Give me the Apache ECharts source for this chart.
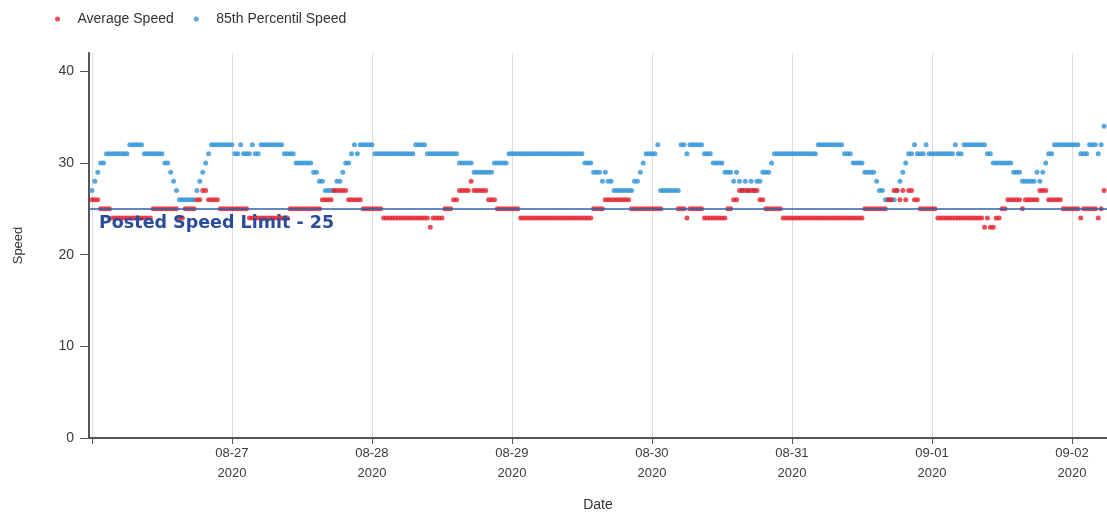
<!DOCTYPE html>
<html><head><meta charset="utf-8">
<script src="https://cdn.jsdelivr.net/npm/echarts@6/dist/echarts.min.js"></script>
<style>html,body{margin:0;padding:0;background:#fff}#c{width:1107px;height:517px}</style>
</head><body><div id="c"></div>
<script>
// Samples every 30 minutes starting 2020-08-26 00:00
const startDate = [2020, 7, 26];
const stepMinutes = 30;
const seriesNames = ['Average Speed', '85th Percentil Speed'];
const dayLabels = ['08-27', '08-28', '08-29', '08-30', '08-31', '09-01', '09-02'];
const yearLabel = '2020';
const yTicks = [0, 10, 20, 30, 40];
const speedLimit = 25;
const limitLabel = 'Posted Speed Limit - 25';

const avgSpeed = [
  26,26,26,25,25,25,25,24,24,24,24,24,
  24,24,24,24,24,24,24,24,24,25,25,25,
  25,25,25,25,25,25,24,24,25,25,25,25,
  26,26,27,27,26,26,26,26,25,25,25,25,
  25,25,25,25,25,25,24,24,24,24,24,24,
  24,24,24,24,24,24,24,24,25,25,25,25,
  25,25,25,25,25,25,25,26,26,26,26,27,
  27,27,27,27,26,26,26,26,26,25,25,25,
  25,25,25,25,24,24,24,24,24,24,24,24,
  24,24,24,24,24,24,24,24,23,24,24,24,
  24,25,25,25,26,26,27,27,27,27,28,27,
  27,27,27,27,26,26,26,25,25,25,25,25,
  25,25,25,24,24,24,24,24,24,24,24,24,
  24,24,24,24,24,24,24,24,24,24,24,24,
  24,24,24,24,25,25,25,25,26,26,26,26,
  26,26,26,26,26,25,25,25,25,25,25,25,
  25,25,25,25,null,null,null,null,null,25,25,25,
  24,25,25,25,25,25,24,24,24,24,24,24,
  24,24,25,25,26,26,27,27,27,27,27,27,
  27,26,26,25,25,25,25,25,25,24,24,24,
  24,24,24,24,24,24,24,24,24,24,24,24,
  24,24,24,24,24,24,24,24,24,24,24,24,
  24,25,25,25,25,25,25,25,25,26,26,27,
  27,26,27,26,27,27,26,26,25,25,25,25,
  25,25,24,24,24,24,24,24,24,24,24,24,
  24,24,24,24,24,24,23,24,23,23,24,24,
  25,25,26,26,26,26,26,25,26,26,26,26,
  26,27,27,27,26,26,26,26,26,25,25,25,
  25,25,25,24,25,25,25,25,25,24,25,27
];

const p85Speed = [
  27,28,29,30,30,31,31,31,31,31,31,31,
  31,32,32,32,32,32,31,31,31,31,31,31,
  31,30,30,29,28,27,26,26,26,26,26,26,
  27,28,29,30,31,32,32,32,32,32,32,32,
  32,31,31,32,31,31,31,32,31,31,32,32,
  32,32,32,32,32,32,31,31,31,31,30,30,
  30,30,30,30,29,29,28,28,27,27,27,27,
  28,28,29,30,30,31,32,31,32,32,32,32,
  32,31,31,31,31,31,31,31,31,31,31,31,
  31,31,31,32,32,32,32,31,31,31,31,31,
  31,31,31,31,31,31,30,30,30,30,30,29,
  29,29,29,29,29,29,30,30,30,30,30,31,
  31,31,31,31,31,31,31,31,31,31,31,31,
  31,31,31,31,31,31,31,31,31,31,31,31,
  31,30,30,30,29,29,29,28,29,28,28,27,
  27,27,27,27,27,27,28,28,29,30,31,31,
  31,31,32,27,27,27,27,27,27,27,32,32,
  31,32,32,32,32,32,31,31,31,30,30,30,
  30,29,29,29,28,29,28,27,28,27,28,27,
  28,28,29,29,29,30,31,31,31,31,31,31,
  31,31,31,31,31,31,31,31,31,32,32,32,
  32,32,32,32,32,32,31,31,31,30,30,30,
  30,29,29,29,29,28,27,27,26,26,26,26,
  27,28,29,30,31,31,32,31,31,31,32,31,
  31,31,31,31,31,31,31,31,32,31,31,32,
  32,32,32,32,32,32,32,31,31,30,30,30,
  30,30,30,30,29,29,29,28,28,28,28,28,
  29,28,29,30,31,31,32,32,32,32,32,32,
  32,32,32,31,31,31,32,32,32,31,32,34
];

const t0 = Date.UTC(startDate[0], startDate[1], startDate[2]);
const stepMs = stepMinutes * 60000;
const toPoints = arr => arr.map((v, i) => [t0 + i * stepMs, v]).filter(p => p[1] != null);

const font = "'Liberation Sans', Arial, sans-serif";
const chart = echarts.init(document.getElementById('c'));
chart.setOption({
  animation: false,
  useUTC: true,
  backgroundColor: '#fff',
  textStyle: { fontFamily: font },
  legend: {
    left: 50, top: 7,
    itemWidth: 30, itemHeight: 5, itemGap: 20,
    icon: 'circle',
    textStyle: { fontSize: 14, color: '#333', fontFamily: font },
    data: seriesNames
  },
  grid: { left: 89, right: 0, top: 53, bottom: 77.5 },
  xAxis: {
    type: 'time',
    min: Date.UTC(2020, 7, 25, 23, 30),
    max: Date.UTC(2020, 8, 2, 6, 0),
    minInterval: 86400000, maxInterval: 86400000,
    name: 'Date', nameLocation: 'middle', nameGap: 60,
    nameTextStyle: { fontSize: 14, color: '#333', fontFamily: font },
    axisLine: { lineStyle: { color: '#555', width: 2 } },
    axisTick: { show: true, length: 6, lineStyle: { color: '#555' } },
    axisLabel: {
      showMinLabel: false, showMaxLabel: false,
      fontSize: 13, color: '#3a3a3a', lineHeight: 20, margin: 5, fontFamily: font,
      formatter: function (v) {
        const d = new Date(v);
        const mm = String(d.getUTCMonth() + 1).padStart(2, '0');
        const dd = String(d.getUTCDate()).padStart(2, '0');
        const key = mm + '-' + dd;
        if (d.getUTCHours() !== 0 || d.getUTCMinutes() !== 0 || dayLabels.indexOf(key) < 0) return '';
        return key + '\n' + yearLabel;
      }
    },
    splitLine: { show: true, lineStyle: { color: '#dcdcdc', width: 1 } }
  },
  yAxis: {
    type: 'value', min: 0, max: 42, interval: 10,
    name: 'Speed', nameLocation: 'middle', nameGap: 64,
    nameTextStyle: { fontSize: 13, color: '#333', fontFamily: font },
    axisLine: { show: true, lineStyle: { color: '#555', width: 2 } },
    axisTick: { show: true, length: 9, lineStyle: { color: '#555' }, customValues: yTicks },
    axisLabel: { fontSize: 14, color: '#3a3a3a', margin: 15, customValues: yTicks, fontFamily: font },
    splitLine: { show: false }
  },
  series: [
    {
      name: seriesNames[1], type: 'scatter', z: 2,
      symbolSize: 5,
      itemStyle: { color: '#2f92d8' },
      data: toPoints(p85Speed),
      markLine: {
        silent: true, symbol: 'none',
        lineStyle: { color: '#2f62ad', width: 1.6, type: 'solid' },
        label: {
          show: true, position: 'insideStartBottom', formatter: limitLabel,
          color: '#2b4c9c', fontSize: 17.5, fontWeight: 'bold',
          fontFamily: "'DejaVu Sans', sans-serif", distance: [10, 6]
        },
        data: [{ yAxis: speedLimit }]
      }
    },
    {
      name: seriesNames[0], type: 'scatter', z: 3,
      symbolSize: 5,
      itemStyle: { color: '#e3202c' },
      data: toPoints(avgSpeed)
    }
  ]
});
</script>
</body></html>
